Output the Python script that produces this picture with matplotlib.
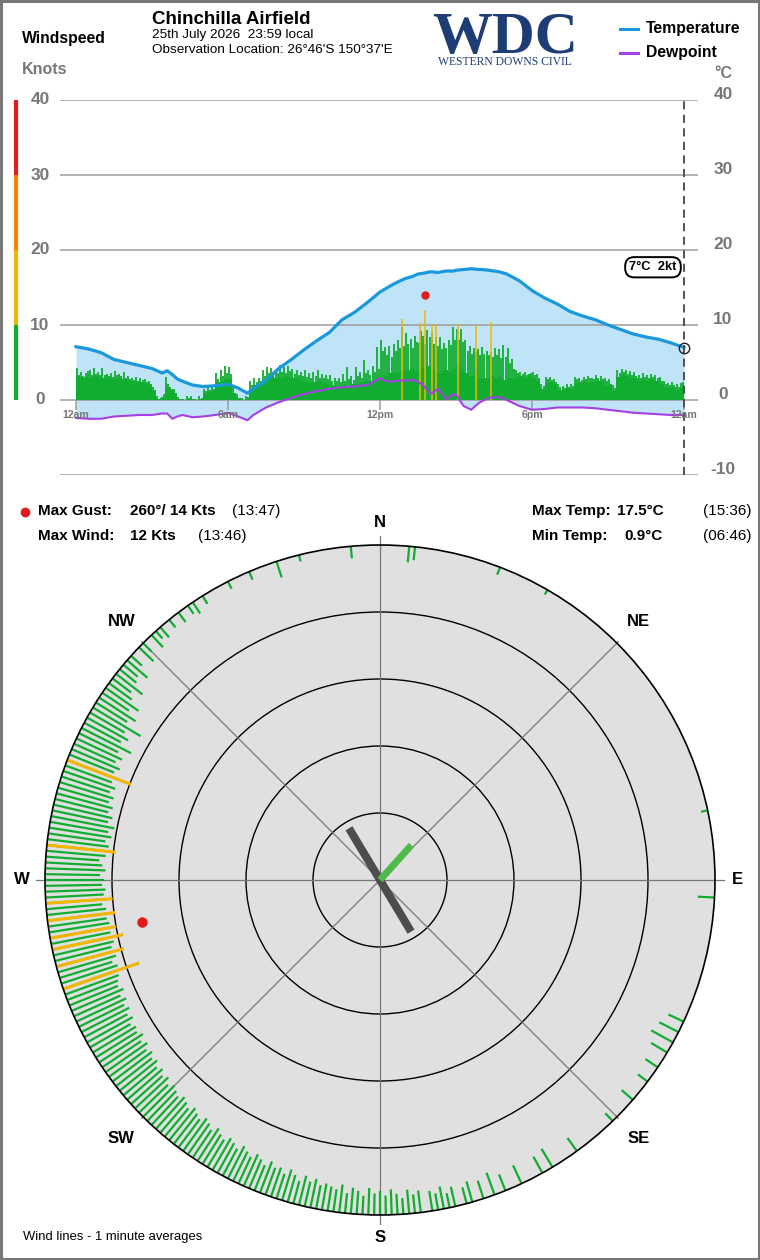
import matplotlib

matplotlib.use("Agg")
import matplotlib.pyplot as plt
import numpy as np
from matplotlib.patches import Circle, Rectangle

plt.rcParams["font.family"] = ["Liberation Sans", "DejaVu Sans"]

# ---- time series (hours since midnight) ----
obs_hours = [0, 0.5, 1, 1.5, 2, 2.5, 3, 3.4, 3.6, 3.8, 4.0, 4.2, 4.6, 5, 5.5, 6, 6.4, 6.77,
             7, 7.5, 8, 8.5, 9, 9.5, 10, 10.5, 11, 11.5, 12, 12.3, 12.5, 12.8, 13, 13.3,
             13.5, 13.7, 14, 14.3, 14.6, 14.9, 15, 15.3, 15.6, 15.9, 16, 16.3, 16.7, 17,
             17.5, 18, 18.5, 19, 19.5, 20, 20.5, 21, 21.5, 22, 22.5, 23, 23.5, 24]
temperature = [7.1, 6.8, 6.3, 5.4, 5.0, 4.6, 4.2, 3.6, 3.9, 3.4, 2.8, 2.5, 2.0, 1.8, 1.9, 2.1,
               1.6, 0.9, 1.5, 2.6, 4.2, 5.4, 6.7, 7.9, 9.0, 10.7, 11.7, 13.0, 14.4, 15.0,
               15.4, 15.9, 16.2, 16.5, 16.8, 16.9, 17.1, 17.0, 17.2, 17.2, 17.3, 17.4, 17.5,
               17.4, 17.4, 17.3, 17.1, 16.8, 15.9, 14.6, 13.6, 12.8, 11.8, 11.2, 10.7, 10.0,
               9.4, 8.8, 8.4, 8.1, 7.6, 7.0]
dewpoint = [-2.4, -2.5, -2.5, -2.2, -2.1, -2.0, -2.0, -1.8, -1.8, -2.5, -2.2, -2.0, -2.3, -2.2,
            -2.0, -1.7, -2.2, -2.7, -2.0, -1.0, -0.3, 0.3, 0.8, 1.2, 1.5, 1.7, 1.8, 2.0, 2.9,
            2.4, 2.5, 2.6, 2.6, 2.7, 2.4, 2.0, 0.8, 1.5, 0.1, 0.8, 0.7, -0.8, -1.3, -0.4,
            -0.2, 0.3, 0.4, 0.0, -0.8, -1.3, -1.2, -1.0, -1.0, -1.0, -1.1, -1.3, -1.5, -1.7,
            -1.8, -1.9, -2.0, -2.0]

# 10 minute mean wind (kt), one row per hour
wind_mean = [
    3.2, 3.0, 3.1, 3.0, 3.2, 3.1,
    3.0, 2.9, 2.8, 3.0, 2.9, 2.8,
    2.6, 2.5, 2.4, 2.4, 2.2, 2.0,
    1.2, 0.2, 0.3, 1.8, 1.2, 0.9,
    0.1, 0.0, 0.2, 0.1, 0.0, 0.2,
    1.0, 1.1, 1.2, 2.4, 2.6, 2.8,
    2.8, 1.0, 0.3, 0.0, 0.2, 1.5,
    2.0, 2.2, 2.5, 3.0, 3.2, 3.0,
    3.0, 3.2, 3.1, 3.0, 2.9, 2.6,
    2.4, 2.3, 2.4, 2.5, 2.3, 2.2,
    2.0, 1.9, 1.8, 2.0, 1.9, 2.1,
    2.2, 2.3, 2.6, 2.5, 2.6, 2.7,
    2.8, 3.2, 3.6, 3.6, 3.8, 4.0,
    4.0, 4.2, 3.8, 4.2, 4.4, 4.5,
    4.0, 3.8, 3.6, 4.0, 3.8, 4.2,
    4.5, 4.2, 3.6, 3.2, 3.4, 3.0,
    3.0, 2.9, 3.2, 3.0, 3.1, 2.7,
    3.0, 2.8, 3.1, 3.2, 3.0, 3.2,
    3.0, 2.6, 1.5, 2.3, 2.4, 2.1,
    1.4, 1.3, 1.6, 1.5, 2.3, 2.4,
    2.4, 2.3, 2.4, 2.5, 2.5, 1.9,
    2.0, 1.2, 3.1, 3.3, 3.2, 3.0,
    2.9, 2.6, 2.7, 2.6, 2.8, 2.6,
    2.2, 1.8, 1.6, 1.7, 1.4, 1.6,
]
# 5 minute peak of the 1 minute averages (kt), one row per hour
wind_peak = [
    4.3, 3.4, 3.8, 3.2, 3.6, 3.9, 4.0, 3.3, 4.3, 3.5, 3.7, 3.4,
    4.3, 3.3, 3.5, 3.2, 3.6, 3.1, 3.9, 3.4, 3.5, 3.2, 3.7, 3.0,
    3.2, 2.8, 3.0, 2.7, 3.1, 2.6, 2.9, 2.7, 2.8, 2.4, 2.6, 2.2,
    1.8, 1.4, 0.5, 0.2, 0.4, 0.8, 3.1, 2.2, 1.8, 1.5, 1.5, 1.0,
    0.4, 0.1, 0.2, 0.0, 0.6, 0.3, 0.5, 0.2, 0.2, 0.0, 0.5, 0.3,
    1.5, 1.2, 1.8, 1.4, 1.9, 1.5, 3.6, 2.8, 4.0, 3.2, 4.5, 3.6,
    4.4, 3.5, 2.0, 0.6, 0.8, 0.3, 0.3, 0.0, 0.6, 0.4, 2.6, 2.0,
    2.9, 2.4, 2.9, 2.6, 4.0, 3.2, 4.4, 3.6, 4.3, 3.8, 4.0, 3.6,
    4.7, 3.8, 4.4, 3.6, 4.6, 3.9, 4.2, 3.5, 4.0, 3.4, 3.8, 3.2,
    4.0, 3.1, 3.6, 2.9, 3.8, 3.2, 4.0, 3.0, 3.5, 2.9, 3.3, 2.8,
    3.3, 2.6, 3.0, 2.5, 2.9, 2.4, 3.5, 2.6, 4.4, 2.8, 3.2, 2.7,
    4.4, 3.2, 3.8, 3.0, 5.3, 3.6, 4.0, 3.3, 4.5, 3.8, 7.1, 4.2,
    8.0, 6.5, 7.1, 6.0, 7.2, 5.8, 7.5, 6.6, 8.0, 7.0, 9.8, 7.2,
    8.9, 7.5, 8.2, 7.0, 8.5, 7.8, 7.6, 9.2, 8.6, 7.5, 9.3, 8.4,
    9.0, 7.5, 8.4, 7.2, 8.4, 6.8, 7.6, 7.0, 8.0, 7.4, 9.8, 8.0,
    9.5, 8.0, 9.5, 7.8, 8.0, 6.5, 7.2, 6.2, 7.0, 6.4, 6.8, 6.0,
    7.1, 6.2, 6.5, 6.0, 6.4, 5.8, 7.0, 6.0, 6.8, 5.6, 7.4, 5.8,
    7.0, 5.0, 5.5, 4.2, 4.0, 3.6, 3.8, 3.5, 3.7, 3.4, 3.5, 3.6,
    3.8, 3.3, 3.5, 3.0, 2.2, 1.9, 3.1, 2.8, 3.1, 2.7, 2.8, 2.4,
    2.2, 1.8, 1.9, 1.6, 2.2, 1.8, 2.1, 1.9, 3.1, 2.8, 3.0, 2.7,
    3.1, 2.8, 3.2, 2.9, 3.0, 2.8, 3.3, 2.9, 3.2, 2.8, 2.9, 2.5,
    2.8, 2.2, 2.0, 1.6, 4.0, 3.6, 4.2, 3.7, 4.0, 3.5, 3.9, 3.4,
    3.8, 3.2, 3.4, 3.0, 3.6, 3.1, 3.3, 3.0, 3.5, 3.1, 3.4, 3.0,
    3.1, 2.6, 2.6, 2.2, 2.3, 2.0, 2.4, 2.0, 2.2, 1.8, 2.3, 2.4,
]
# 1 minute averages of 10 kt or more
strong_hours = [12.85, 13.57, 13.77, 14.05, 14.2, 15.07, 15.79, 16.38]
strong_kt = [10.8, 10.3, 12.0, 10.2, 10.0, 10.2, 10.0, 10.4]
strong_dir = [258, 276, 251, 291, 266, 263, 260, 255]

gust_hour, gust_kt, gust_dir = 13.78, 14, 260
current_kt, current_dir = 2, 222
runway_heading = 149

# ---- wind rose lines (bearing, 1 minute average kt) ----
rose_dir = list(range(160, 340))
rose_kt = [
    3.5, 0, 2.8, 0, 3.2, 2.5, 0, 3.0, 2.2, 3.4,
    2.5, 3.0, 0, 3.3, 2.8, 3.6, 2.4, 3.1, 3.8, 2.9,
    3.6, 3.2, 4.0, 2.8, 3.5, 3.9, 3.0, 4.2, 3.4, 3.7,
    4.0, 3.6, 4.4, 3.8, 4.5, 3.5, 4.2, 4.8, 3.9, 4.6,
    4.3, 5.0, 4.1, 4.7, 5.2, 4.4, 4.9, 5.4, 4.6, 5.1,
    5.5, 4.8, 5.2, 5.8, 5.0, 5.6, 6.0, 5.3, 5.7, 6.2,
    5.5, 6.0, 6.4, 5.8, 6.2, 6.6, 6.0, 6.8, 6.3, 7.0,
    6.5, 7.2, 6.8, 7.4, 6.9, 7.6, 7.0, 7.8, 7.2, 7.5,
    7.0, 7.8, 7.3, 8.0, 7.5, 8.2, 7.6, 8.4, 7.8, 8.1,
    8.5, 8.0, 8.8, 8.2, 9.0, 8.4, 8.7, 9.2, 8.5, 9.0,
    8.6, 9.1, 8.8, 9.3, 8.9, 8.4, 9.2, 8.7, 9.0, 8.5,
    8.8, 8.2, 9.0, 8.5, 8.0, 8.9, 8.3, 9.2, 8.6, 9.4,
    8.8, 9.6, 8.5, 9.0, 8.2, 8.7, 7.9, 8.4, 7.6, 8.2,
    7.4, 8.0, 7.2, 7.8, 6.8, 7.5, 6.5, 8.3, 6.2, 7.0,
    6.0, 8.3, 5.5, 6.5, 4.8, 6.0, 4.2, 3.5, 5.0, 3.2,
    2.8, 4.0, 2.2, 0, 3.0, 1.8, 0, 2.5, 1.5, 2.0,
    0, 1.5, 0, 1.8, 0, 1.5, 2.0, 0, 1.4, 0,
    0, 0, 0, 1.2, 0, 0, 0, 1.3, 0, 0,
]
sparse_dir = [342, 346, 355, 5, 6, 21, 30, 78, 93, 115, 117, 119, 121, 124, 127, 131,
              136, 144, 149, 151, 155, 158]
sparse_kt = [2.5, 1.0, 1.8, 2.4, 2.0, 1.2, 0.8, 1.0, 2.5, 2.5, 3.2, 3.7, 2.8, 2.2, 1.8,
             2.2, 1.6, 2.4, 3.2, 2.8, 3.0, 2.6]

compass = ["N", "NE", "E", "SE", "S", "SW", "W", "NW"]

GREEN = "#10ad30"
YELLOW = "#f2b600"
BLUE = "#1a98dc"
FILL = "#bfe3f7"
PURPLE = "#a53fe6"
GRID = "#9c9c9c"
LABEL = "#777777"
NAVY = "#1f3d75"

W, H = 760, 1260
fig = plt.figure(figsize=(W / 100, H / 100), dpi=100)


def px_axes(left, top, width, height):
    return fig.add_axes([left / W, 1 - (top + height) / H, width / W, height / H])


bg = px_axes(0, 0, W, H)
bg.set_xlim(0, W)
bg.set_ylim(H, 0)
bg.axis("off")

# ---- header ----
bg.text(152, 19, "Chinchilla Airfield", fontsize=13.5, fontweight="bold", va="center")
bg.text(152, 35, "25th July 2026  23:59 local", fontsize=9.7, va="center")
bg.text(152, 50, "Observation Location: 26°46'S 150°37'E", fontsize=9.7, va="center")
bg.text(22, 39, "Windspeed", fontsize=11.3, fontweight="bold", va="center")
bg.text(22, 69, "Knots", fontsize=11.5, fontweight="bold", color=LABEL, va="center")
bg.text(714, 74, "°C", fontsize=11.5, fontweight="bold", color=LABEL, va="center")
bg.text(505, 53, "WDC", fontsize=43, fontweight="bold", family="Liberation Serif",
        color=NAVY, ha="center", va="baseline")
bg.text(505, 65, "WESTERN DOWNS CIVIL", fontsize=8.4, family="Liberation Serif",
        color=NAVY, ha="center", va="baseline")
bg.plot([620, 638], [29, 29], color=BLUE, lw=2.2)
bg.plot([620, 638], [53, 53], color=PURPLE, lw=2.2)
bg.text(646, 29, "Temperature", fontsize=11.3, fontweight="bold", va="center")
bg.text(646, 53, "Dewpoint", fontsize=11.3, fontweight="bold", va="center")

# ---- stats ----
bg.plot(25, 512, "o", color="#e01b1b", ms=6)
stat_font = 11
for x, y, s, bold in [
    (38, 511, "Max Gust:", True), (130, 511, "260°/ 14 Kts", True), (232, 511, "(13:47)", False),
    (38, 536, "Max Wind:", True), (130, 536, "12 Kts", True), (198, 536, "(13:46)", False),
    (532, 511, "Max Temp:", True), (617, 511, "17.5°C", True), (703, 511, "(15:36)", False),
    (532, 536, "Min Temp:", True), (624, 536, "0.9°C", True), (703, 536, "(06:46)", False),
]:
    bg.text(x, y, s, fontsize=stat_font, fontweight="bold" if bold else "normal", va="center")
bg.text(23, 1237, "Wind lines - 1 minute averages", fontsize=9.4, va="center")
bg.add_patch(Rectangle((1, 1), W - 2, H - 2, fill=False, ec="#777777", lw=2.2))

# ---- time series panel ----
px_per_h = 608 / 24
ax = px_axes(60, 100, 638, 375)
ax.set_xlim(-16 / px_per_h, 24 + 14 / px_per_h)
ax.set_ylim(-10, 40)
ax.axis("off")
ax.patch.set_alpha(0)

ax.fill_between(obs_hours, temperature, dewpoint, color=FILL, lw=0, zorder=1)
for v in range(-10, 41, 10):
    ax.axhline(v, color=GRID, lw=1.1, zorder=2)
    if v >= 0:
        ax.text(-36 / px_per_h, v, str(v), fontsize=12.5, fontweight="bold", color=LABEL,
                ha="center", va="center")
    ax.text(24 + 39 / px_per_h, v + 0.7, str(v), fontsize=12.5, fontweight="bold",
            color=LABEL, ha="center", va="center")

bar_x = -60 / px_per_h
scale_colors = [GREEN, YELLOW, "#ff7f00", "#e31a1c"]
ax.vlines([bar_x] * 4, [0, 10, 20, 30], [10, 20, 30, 40], colors=scale_colors, lw=3,
          clip_on=False)

bins10 = np.arange(len(wind_mean)) / 6
ax.bar(bins10, wind_mean, width=1 / 6, align="edge", color=GREEN, lw=0, zorder=3)
bins5 = np.arange(len(wind_peak)) / 12 + 1 / 24
ax.vlines(bins5, 0, wind_peak, colors=GREEN, lw=1.3, zorder=3)
ax.vlines(strong_hours, 0, strong_kt, colors=YELLOW, lw=1.1, zorder=3)
ax.plot(gust_hour, gust_kt, "o", color="#e01b1b", ms=5, zorder=6)

ax.plot(obs_hours, dewpoint, color=PURPLE, lw=1.5, zorder=4)
ax.plot(obs_hours, temperature, color=BLUE, lw=2.3, zorder=5)
ax.plot(obs_hours[-1], temperature[-1], "o", mfc="none", mec="#222222", ms=7.5, mew=1,
        zorder=7)
ax.vlines(24, -10, 40, colors="#444444", lw=1.3, linestyles=(0, (4.5, 3)), zorder=6)

tick_hours = [0, 6, 12, 18, 24]
tick_labels = ["12am", "6am", "12pm", "6pm", "12am"]
ax.vlines(tick_hours, -1.35, 0, colors=GRID, lw=1.1, zorder=2)
for h, lab in zip(tick_hours, tick_labels):
    ax.text(h, -2.0, lab, fontsize=7.6, fontweight="bold", color=LABEL, ha="center",
            va="center", zorder=8)
ax.text(24 - 31 / px_per_h, 17.7, f"{temperature[-1]:.0f}°C  {current_kt}kt", fontsize=9.3,
        fontweight="bold", ha="center", va="center", zorder=8,
        bbox=dict(boxstyle="round,pad=0.32,rounding_size=0.7", fc="white", ec="black",
                  lw=1.4))

# ---- wind rose ----
px_per_kt = 6.7
rmax = 50
rose = px_axes(0, 500, 760, 760)
lim = 380 / px_per_kt
rose.set_xlim(-lim, lim)
rose.set_ylim(-lim, lim)
rose.axis("off")
rose.patch.set_alpha(0)


def polar(bearing, r):
    b = np.radians(np.asarray(bearing, dtype=float))
    return np.asarray(r) * np.sin(b), np.asarray(r) * np.cos(b)


rose.add_patch(Circle((0, 0), rmax, fc="#e0e0e0", ec="none", zorder=1))
for r in [10, 20, 30, 40]:
    rose.add_patch(Circle((0, 0), r, fill=False, ec="black", lw=1.0, zorder=2))
rose.add_patch(Circle((0, 0), rmax, fill=False, ec="black", lw=1.2, zorder=6))

for i, name in enumerate(compass):
    b = i * 45
    reach = 51.3 if i % 2 == 0 else 50.3
    x, y = polar(b, reach)
    rose.plot([0, x], [0, y], color="#777777", lw=0.9, zorder=2)
    lx, ly = polar(b, 53.4 if i % 2 == 0 else 54.6)
    rose.text(lx, ly, name, fontsize=12, fontweight="bold", ha="center", va="center")


def rose_lines(dirs, kts, color, lw, z):
    dirs = np.asarray(dirs, dtype=float)
    kts = np.asarray(kts, dtype=float)
    keep = kts > 0
    x0, y0 = polar(dirs[keep], rmax)
    x1, y1 = polar(dirs[keep], rmax - kts[keep])
    for a, b, c, d in zip(x0, y0, x1, y1):
        rose.plot([a, c], [b, d], color=color, lw=lw, solid_capstyle="butt", zorder=z)


rose_lines(rose_dir, rose_kt, GREEN, 1.6, 3)
rose_lines(sparse_dir, sparse_kt, GREEN, 1.6, 3)
rose_lines(strong_dir, strong_kt, YELLOW, 2.2, 4)

x0, y0 = polar(runway_heading, 9)
x1, y1 = polar(runway_heading + 180, 9)
rose.plot([x0, x1], [y0, y1], color="#4d4d4d", lw=5.8, solid_capstyle="butt", zorder=7)
wx, wy = polar((current_dir + 180) % 360, 7)
rose.plot([0, wx], [0, wy], color="#4fba4a", lw=5, solid_capstyle="butt", zorder=8)
gx, gy = polar(gust_dir, rmax - gust_kt)
rose.plot(gx, gy, "o", color="#e01b1b", ms=6.5, zorder=9)

fig.savefig("out.png", dpi=100)
